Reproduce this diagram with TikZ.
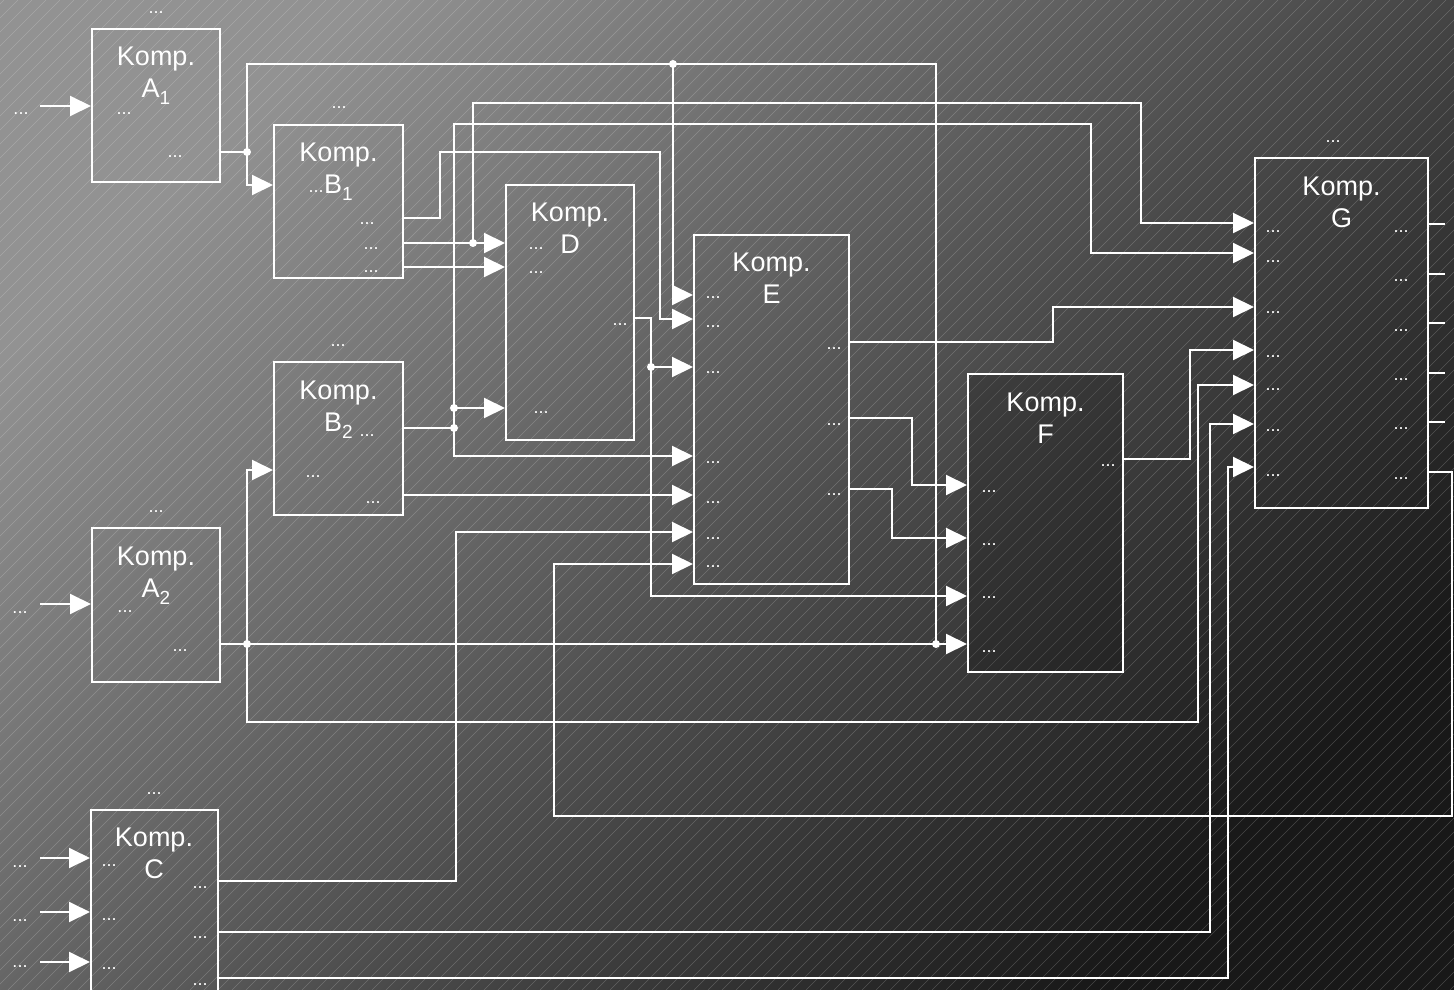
\documentclass[tikz,border=0pt]{standalone}
\usepackage{fontspec}
\setmainfont{Liberation Sans}
\usetikzlibrary{arrows.meta}
\definecolor{bgLight}{HTML}{929292}
\definecolor{bgDark}{HTML}{181818}

\newcommand{\kompsub}[1]{\raisebox{-7pt}{\fontsize{19}{20}\selectfont #1}}

\begin{document}
\begin{tikzpicture}[
    x=1pt, y=-1pt,
    box/.style={draw=white, line width=2pt, inner sep=0pt},
    ttl/.style={text=white, font=\fontsize{27}{32}\selectfont, align=center, anchor=north, inner sep=0pt},
    port/.style={text=white, font=\fontsize{18}{20}\selectfont, anchor=base, inner sep=0pt},
    wire/.style={draw=white, line width=2pt},
    arr/.style={wire, -{Triangle[length=21pt, width=20pt]}},
    junction/.style={circle, fill=white, minimum size=8pt, inner sep=0pt},
    hatch/.style={white, opacity=0.2, line width=0.5pt},
  ]
    \useasboundingbox (0,0) rectangle (1454,990);
    % background
    \shade[top color=bgLight, bottom color=bgDark, shading angle=45] (0,0) rectangle (1454,990);
    \begin{scope}
      \clip (0,0) rectangle (1454,990);
      \foreach \i in {-1000,-986,...,1454} \draw[hatch] (\i,990) -- ++(990,-990);
    \end{scope}

    % components
    \node[box, minimum width=128pt, minimum height=153pt] (A1) at (156,105.5) {};
    \node[box, minimum width=129pt, minimum height=153pt] (B1) at (338.5,201.5) {};
    \node[box, minimum width=128pt, minimum height=255pt] (D)  at (570,312.5) {};
    \node[box, minimum width=155pt, minimum height=349pt] (E)  at (771.5,409.5) {};
    \node[box, minimum width=129pt, minimum height=153pt] (B2) at (338.5,438.5) {};
    \node[box, minimum width=128pt, minimum height=154pt] (A2) at (156,605) {};
    \node[box, minimum width=127pt, minimum height=200pt] (C)  at (154.5,910) {};
    \node[box, fill=black, fill opacity=0.18, minimum width=155pt, minimum height=298pt] (F) at (1045.5,523) {};
    \node[box, minimum width=173pt, minimum height=350pt] (G)  at (1341.5,333) {};

    \node[ttl] (A1t) at (156,47)    {Komp.\\A\kompsub{1}};
    \node[ttl] (B1t) at (338.5,143) {Komp.\\B\kompsub{1}};
    \node[ttl] (Dt)  at (570,203)   {Komp.\\D};
    \node[ttl] (Et)  at (771.5,253) {Komp.\\E};
    \node[ttl] (B2t) at (338.5,381) {Komp.\\B\kompsub{2}};
    \node[ttl] (A2t) at (156,547)   {Komp.\\A\kompsub{2}};
    \node[ttl] (Ct)  at (154,828)   {Komp.\\C};
    \node[ttl] (Ft)  at (1045.5,393) {Komp.\\F};
    \node[ttl] (Gt)  at (1341.5,177) {Komp.\\G};

    % port labels
    \node[port] (A1top) at (156,14)  {...};
    \node[port] (A1ext) at (21,114)  {...};
    \node[port] (A1in)  at (124,114) {...};
    \node[port] (A1out) at (175,157) {...};
    \node[port] (B1top) at (339,108) {...};
    \node[port] (B1in)  at (316,192) {...};
    \node[port] (B1o1)  at (367,224) {...};
    \node[port] (B1o2)  at (371,249) {...};
    \node[port] (B1o3)  at (371,272) {...};
    \node[port] (B2top) at (338,346) {...};
    \node[port] (B2o1)  at (367,436) {...};
    \node[port] (B2in)  at (313,477) {...};
    \node[port] (B2o2)  at (373,503) {...};
    \node[port] (A2top) at (156,512) {...};
    \node[port] (A2ext) at (20,613)  {...};
    \node[port] (A2in)  at (125,612) {...};
    \node[port] (A2out) at (180,651) {...};
    \node[port] (Ctop)  at (154,794) {...};
    \node[port] (Din1)  at (536,249) {...};
    \node[port] (Din2)  at (536,273) {...};
    \node[port] (Din3)  at (541,413) {...};
    \node[port] (Dout)  at (620,325) {...};
    \node[port] (Fout)  at (1108,466) {...};
    \node[port] (Gtop)  at (1333,142) {...};
    \foreach \y [count=\i] in {867,921,967} \node[port] (Cext\i) at (20,\y) {...};
    \foreach \y [count=\i] in {866,920,969} \node[port] (Cin\i) at (109,\y) {...};
    \foreach \y [count=\i] in {888,938,985} \node[port] (Cout\i) at (200,\y) {...};
    \foreach \y [count=\i] in {298,327,373,463,503,539,567} \node[port] (Ein\i) at (713,\y) {...};
    \foreach \y [count=\i] in {349,425,495} \node[port] (Eout\i) at (834,\y) {...};
    \foreach \y [count=\i] in {492,545,598,652} \node[port] (Fin\i) at (989,\y) {...};
    \foreach \y [count=\i] in {232,262,313,357,390,431,476} \node[port] (Gin\i) at (1273,\y) {...};
    \foreach \y [count=\i] in {232,281,331,380,429,479} \node[port] (Gout\i) at (1401,\y) {...};

    % junctions
    \node[junction] (ja1)  at (247,152) {};
    \node[junction] (ja2)  at (247,644) {};
    \node[junction] (jtop) at (673,64)  {};
    \node[junction] (jf)   at (936,644) {};
    \node[junction] (jb1)  at (473,243) {};
    \node[junction] (jb2a) at (454,408) {};
    \node[junction] (jb2b) at (454,428) {};
    \node[junction] (jd)   at (651,367) {};

    % outside inputs
    \coordinate (a1src) at (40,106);
    \coordinate (a2src) at (40,604);
    \draw[arr] (a1src) -- (A1.west |- a1src);
    \draw[arr] (a2src) -- (A2.west |- a2src);
    \foreach \y [count=\i] in {858,912,962} {
      \coordinate (csrc\i) at (40,\y);
      \draw[arr] (csrc\i) -- (C.west |- csrc\i);
    }

    % A1
    \draw[wire] (A1.east |- ja1) -- (ja1.center);
    \draw[arr] (ja1.center) |- (B1.west |- 0,185);
    \draw[wire] (ja1.center) |- (jtop.center) -| (jf.center);
    \draw[arr] (jtop.center) |- (E.west |- 0,295);
    \draw[arr] (jf.center) -- (F.west |- jf);

    % A2
    \draw[wire] (A2.east |- ja2) -- (ja2.center) -- (jf.center);
    \draw[arr] (ja2.center) |- (B2.west |- 0,470);
    \draw[arr] (ja2.center) |- (1198,722) |- (G.west |- 0,385);

    % B1
    \draw[arr] (B1.east |- 0,218) -| (440,152) -| (660,319) -- (E.west |- 0,319);
    \draw[wire] (B1.east |- jb1) -- (jb1.center);
    \draw[arr] (jb1.center) -- (D.west |- jb1);
    \draw[arr] (jb1.center) |- (1141,103) |- (G.west |- 0,223);
    \draw[arr] (B1.east |- 0,267) -- (D.west |- 0,267);

    % B2
    \draw[wire] (B2.east |- jb2b) -- (jb2b.center) -- (jb2a.center);
    \draw[arr] (jb2a.center) -- (D.west |- jb2a);
    \draw[arr] (jb2b.center) |- (E.west |- 0,456);
    \draw[arr] (jb2a.center) |- (1091,124) |- (G.west |- 0,253);
    \draw[arr] (B2.east |- 0,495) -- (E.west |- 0,495);

    % D
    \draw[wire] (D.east |- 0,318) -| (jd.center);
    \draw[arr] (jd.center) -- (E.west |- jd);
    \draw[arr] (jd.center) |- (F.west |- 0,596);

    % E
    \draw[arr] (E.east |- 0,342) -| (1053,307) -- (G.west |- 0,307);
    \draw[arr] (E.east |- 0,418) -| (912,485) -- (F.west |- 0,485);
    \draw[arr] (E.east |- 0,489) -| (892,538) -- (F.west |- 0,538);

    % F
    \draw[arr] (F.east |- 0,459) -| (1190,350) -- (G.west |- 0,350);

    % C
    \draw[arr] (C.east |- 0,881) -| (456,532) -- (E.west |- 0,532);
    \draw[arr] (C.east |- 0,932) -| (1210,424) -- (G.west |- 0,424);
    \draw[arr] (C.east |- 0,978) -| (1228,467) -- (G.west |- 0,467);

    % G
    \foreach \y [count=\i] in {224,274,323,373,422} {
      \coordinate (gend\i) at (1445,\y);
      \draw[wire] (G.east |- gend\i) -- (gend\i);
    }
    \draw[arr] (G.east |- 0,472) -| (1452,816) -| (554,564) -- (E.west |- 0,564);
  \end{tikzpicture}
\end{document}
